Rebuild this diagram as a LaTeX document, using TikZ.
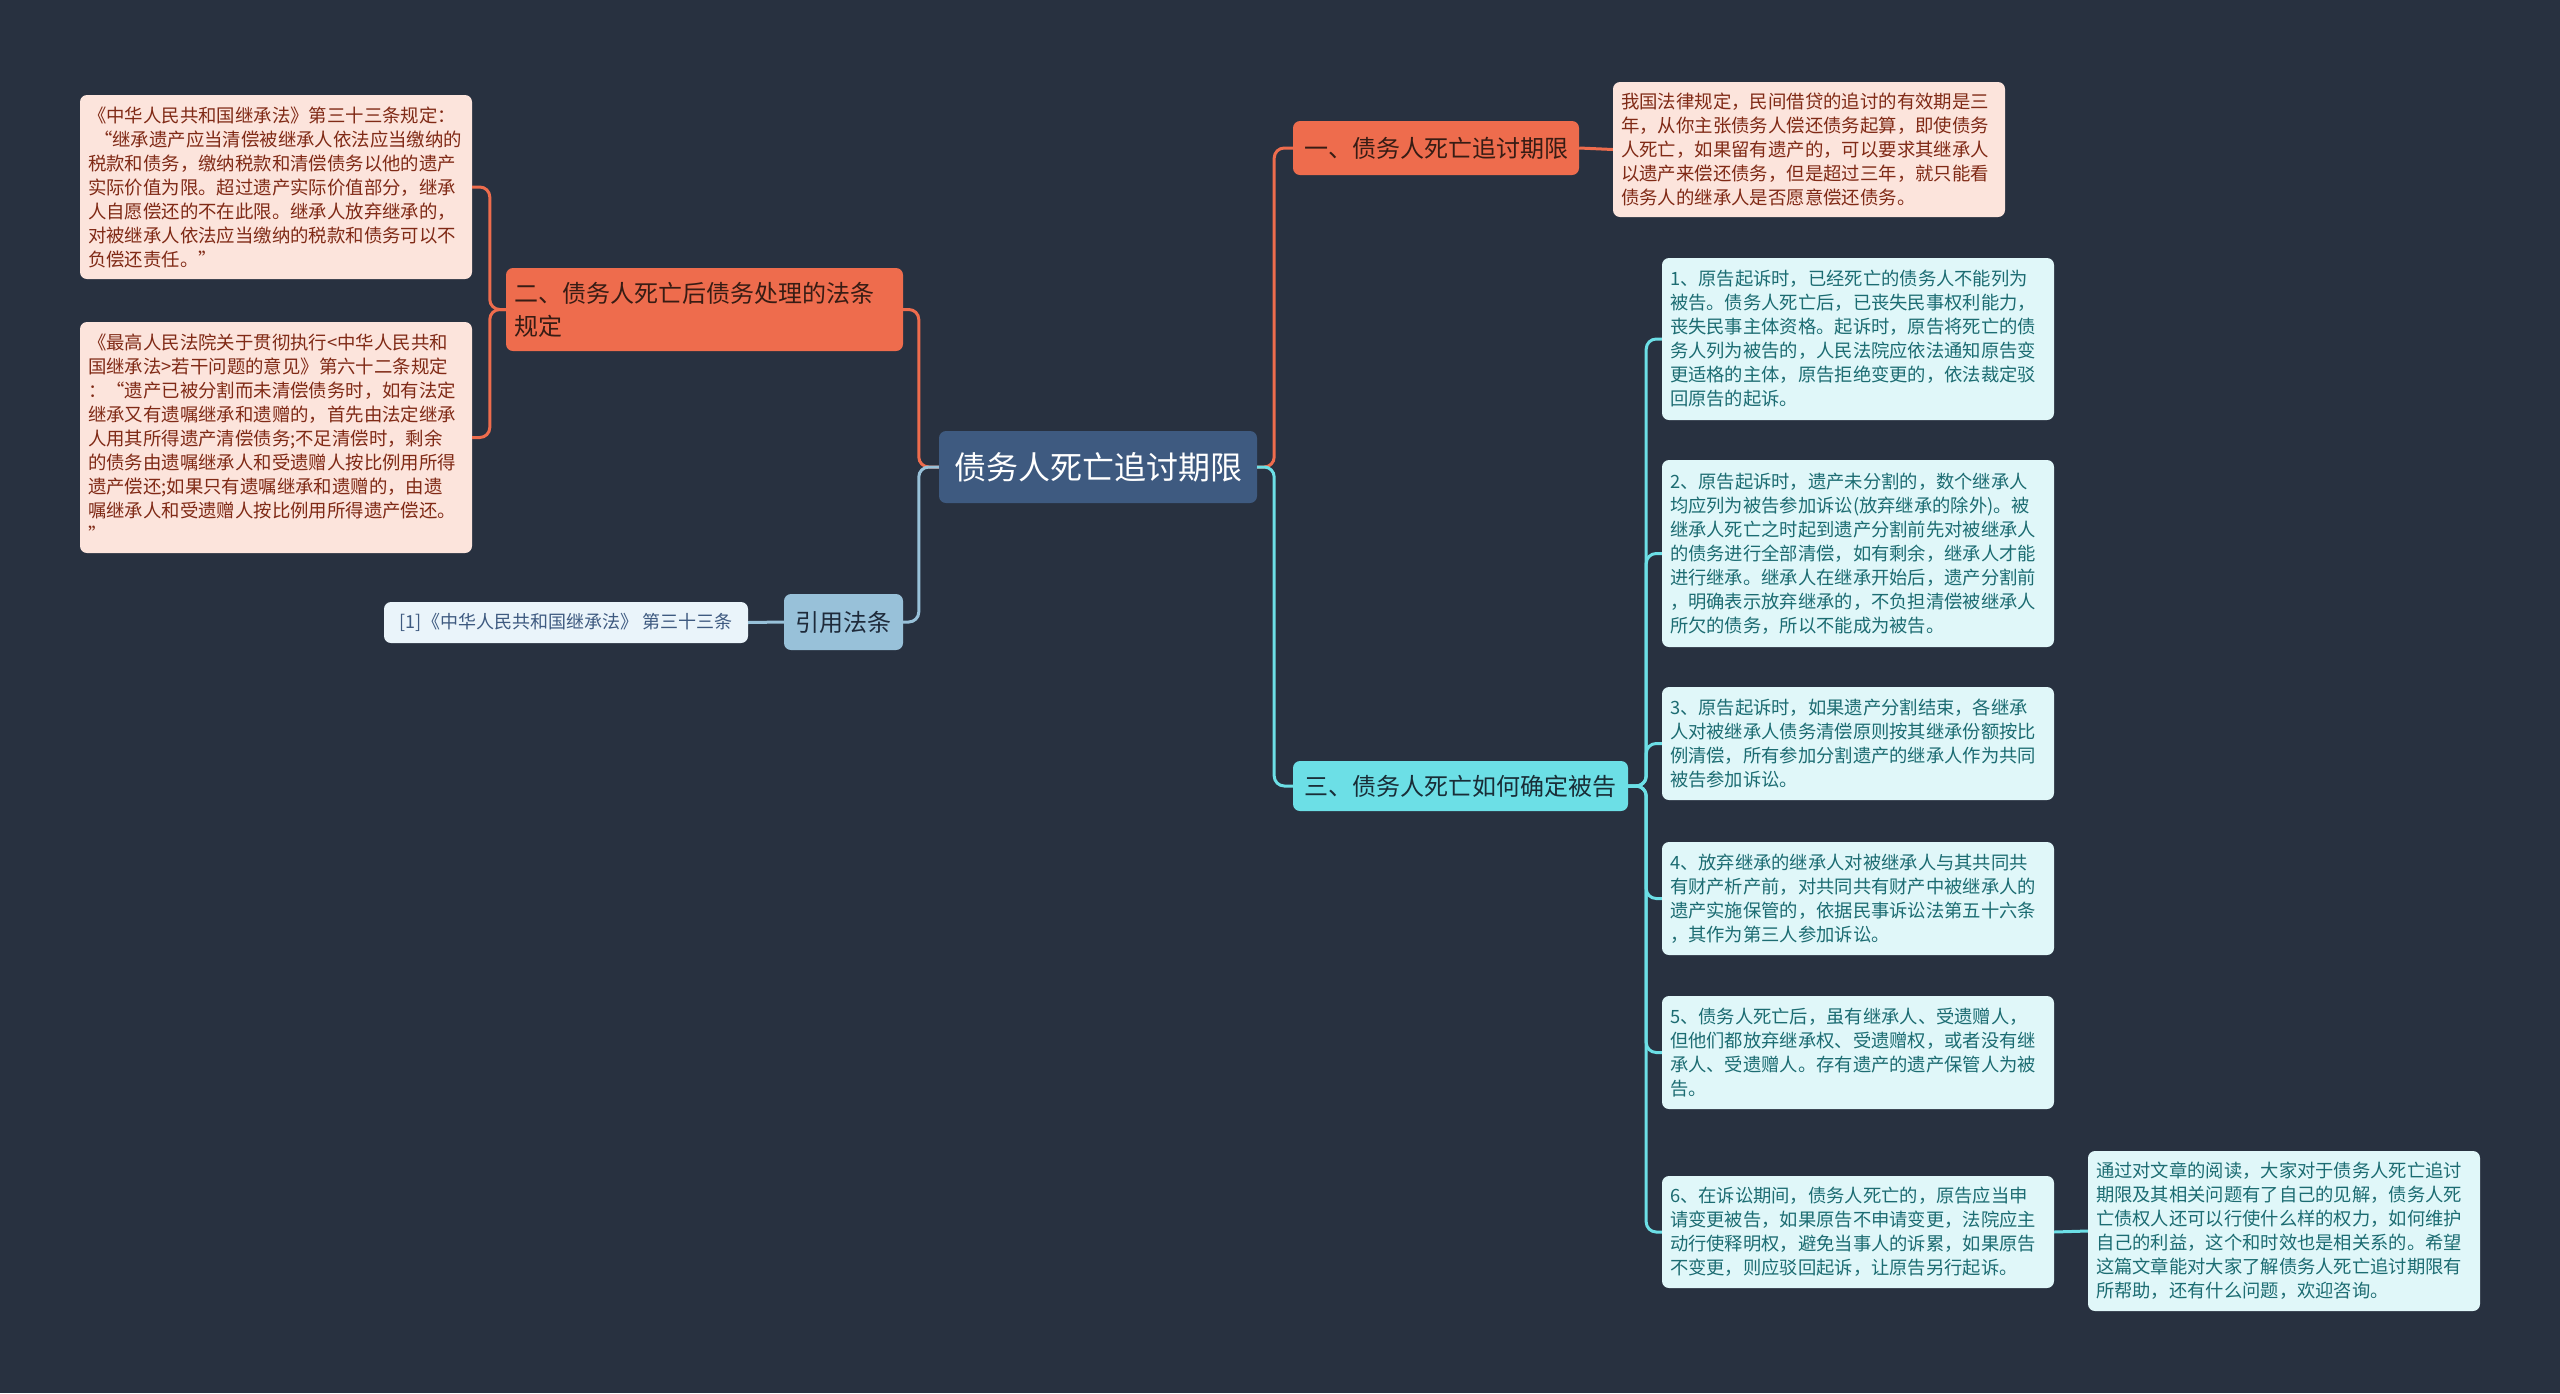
\documentclass[tikz,border=0pt]{standalone}
\usepackage{fontspec}
\setmainfont{Noto Sans CJK SC}
\definecolor{bg}{RGB}{40,49,64}
\definecolor{rootfill}{RGB}{62,90,128}
\definecolor{orangefill}{RGB}{238,108,77}
\definecolor{orangetext}{RGB}{55,28,20}
\definecolor{pinkfill}{RGB}{252,228,220}
\definecolor{pinktext}{RGB}{128,42,22}
\definecolor{cyanfill}{RGB}{108,223,230}
\definecolor{cyantext}{RGB}{25,45,55}
\definecolor{lcyanfill}{RGB}{224,247,249}
\definecolor{lcyantext}{RGB}{28,108,114}
\definecolor{bluefill}{RGB}{152,193,217}
\definecolor{bluetext}{RGB}{30,42,58}
\definecolor{lbluefill}{RGB}{234,244,250}
\definecolor{lbluetext}{RGB}{62,90,128}
\tikzset{
  base/.style={rectangle, rounded corners=7pt, inner xsep=8pt, inner ysep=0pt, align=left, anchor=center},
  rootbox/.style={base, fill=rootfill, text=white, minimum width=318pt, minimum height=72pt, font=\fontsize{32}{40}\selectfont, align=center},
  obox/.style={base, fill=orangefill, text=orangetext, font=\fontsize{24}{33}\selectfont},
  pbox/.style={base, fill=pinkfill, text=pinktext, text width=376pt, font=\fontsize{18.4}{24}\selectfont},
  cbox/.style={base, fill=cyanfill, text=cyantext, font=\fontsize{24}{33}\selectfont},
  lcbox/.style={base, fill=lcyanfill, text=lcyantext, text width=376pt, font=\fontsize{18.3}{24}\selectfont},
  bbox/.style={base, fill=bluefill, text=bluetext, font=\fontsize{24}{33}\selectfont},
  lbbox/.style={base, fill=lbluefill, text=lbluetext, font=\fontsize{18}{24}\selectfont},
  oline/.style={draw=orangefill, line width=3pt, rounded corners=10pt},
  cline/.style={draw=cyanfill, line width=3pt, rounded corners=10pt},
  bline/.style={draw=bluefill, line width=3pt, rounded corners=10pt},
}
\begin{document}
\begin{tikzpicture}[x=1pt,y=-1pt]
\fill[bg] (0,0) rectangle (2560,1393);
\useasboundingbox (0,0) rectangle (2560,1393);

% nodes
\node[rootbox] (root) at (1098,467) {债务人死亡追讨期限};

\node[obox, minimum width=286pt, minimum height=54pt, align=center] (n1) at (1436,148) {一、债务人死亡追讨期限};
\node[pbox, minimum width=392pt, minimum height=135pt] (p1) at (1809,149.5) {我国法律规定，民间借贷的追讨的有效期是三\\年，从你主张债务人偿还债务起算，即使债务\\人死亡，如果留有遗产的，可以要求其继承人\\以遗产来偿还债务，但是超过三年，就只能看\\债务人的继承人是否愿意偿还债务。};

\node[obox, text width=381pt, minimum width=397pt, minimum height=83pt] (n2) at (704.5,309.5) {二、债务人死亡后债务处理的法条\\规定};
\node[pbox, minimum width=392pt, minimum height=184pt] (l1) at (276,187) {《中华人民共和国继承法》第三十三条规定：\\\hspace*{6pt}“继承遗产应当清偿被继承人依法应当缴纳的\\税款和债务，缴纳税款和清偿债务以他的遗产\\实际价值为限。超过遗产实际价值部分，继承\\人自愿偿还的不在此限。继承人放弃继承的，\\对被继承人依法应当缴纳的税款和债务可以不\\负偿还责任。”};
\node[pbox, minimum width=392pt, minimum height=231pt] (l2) at (276,437.5) {《最高人民法院关于贯彻执行<中华人民共和\\国继承法>若干问题的意见》第六十二条规定\\：“遗产已被分割而未清偿债务时，如有法定\\继承又有遗嘱继承和遗赠的，首先由法定继承\\人用其所得遗产清偿债务;不足清偿时，剩余\\的债务由遗嘱继承人和受遗赠人按比例用所得\\遗产偿还;如果只有遗嘱继承和遗赠的，由遗\\嘱继承人和受遗赠人按比例用所得遗产偿还。\\”};

\node[bbox, minimum width=119pt, minimum height=56pt, align=center] (cite) at (843.5,622) {引用法条};
\node[lbbox, minimum width=364pt, minimum height=41pt, align=center] (ref) at (566,622.5) {[1]《中华人民共和国继承法》 第三十三条};

\node[cbox, minimum width=335pt, minimum height=50pt, align=center] (n3) at (1460.5,786) {三、债务人死亡如何确定被告};

\node[lcbox, minimum width=392pt, minimum height=162pt] (r1) at (1858,339) {1、原告起诉时，已经死亡的债务人不能列为\\被告。债务人死亡后，已丧失民事权利能力，\\丧失民事主体资格。起诉时，原告将死亡的债\\务人列为被告的，人民法院应依法通知原告变\\更适格的主体，原告拒绝变更的，依法裁定驳\\回原告的起诉。};
\node[lcbox, minimum width=392pt, minimum height=187pt] (r2) at (1858,553.5) {2、原告起诉时，遗产未分割的，数个继承人\\均应列为被告参加诉讼(放弃继承的除外)。被\\继承人死亡之时起到遗产分割前先对被继承人\\的债务进行全部清偿，如有剩余，继承人才能\\进行继承。继承人在继承开始后，遗产分割前\\，明确表示放弃继承的，不负担清偿被继承人\\所欠的债务，所以不能成为被告。};
\node[lcbox, minimum width=392pt, minimum height=113pt] (r3) at (1858,743.5) {3、原告起诉时，如果遗产分割结束，各继承\\人对被继承人债务清偿原则按其继承份额按比\\例清偿，所有参加分割遗产的继承人作为共同\\被告参加诉讼。};
\node[lcbox, minimum width=392pt, minimum height=113pt] (r4) at (1858,898.5) {4、放弃继承的继承人对被继承人与其共同共\\有财产析产前，对共同共有财产中被继承人的\\遗产实施保管的，依据民事诉讼法第五十六条\\，其作为第三人参加诉讼。};
\node[lcbox, minimum width=392pt, minimum height=113pt] (r5) at (1858,1052.5) {5、债务人死亡后，虽有继承人、受遗赠人，\\但他们都放弃继承权、受遗赠权，或者没有继\\承人、受遗赠人。存有遗产的遗产保管人为被\\告。};
\node[lcbox, minimum width=392pt, minimum height=112pt] (r6) at (1858,1232) {6、在诉讼期间，债务人死亡的，原告应当申\\请变更被告，如果原告不申请变更，法院应主\\动行使释明权，避免当事人的诉累，如果原告\\不变更，则应驳回起诉，让原告另行起诉。};
\node[lcbox, minimum width=392pt, minimum height=160pt] (fin) at (2284,1231) {通过对文章的阅读，大家对于债务人死亡追讨\\期限及其相关问题有了自己的见解，债务人死\\亡债权人还可以行使什么样的权力，如何维护\\自己的利益，这个和时效也是相关系的。希望\\这篇文章能对大家了解债务人死亡追讨期限有\\所帮助，还有什么问题，欢迎咨询。};

% connectors
\path[oline] (root.east) -- ++(17,0) |- (n1.west);
\path[cline] (root.east) -- ++(17,0) |- (n3.west);
\path[oline] (n1.east) -- (p1.west);

\path[oline] (root.west) -- ++(-20,0) |- (n2.east);
\path[bline] (root.west) -- ++(-20,0) |- (cite.east);
\path[bline] (cite.west) -- (ref.east);

\path[oline] (n2.west) -- ++(-16,0) |- (l1.east);
\path[oline] (n2.west) -- ++(-16,0) |- (l2.east);

\foreach \r in {r1,r2,r3,r4,r5,r6}{
  \path[cline] (n3.east) -- ++(18,0) |- (\r.west);
}
\path[cline] (r6.east) -- (fin.west);
\end{tikzpicture}
\end{document}
